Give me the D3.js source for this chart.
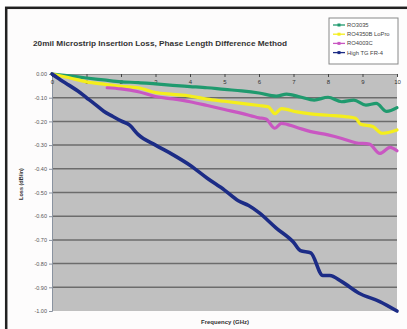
<!DOCTYPE html>
<html>
<head>
<meta charset="utf-8">
<script src="https://cdn.jsdelivr.net/npm/d3@7"></script>
<style>
  body { margin: 0; background: #fff; }
  text { font-family: "Liberation Sans", Arial, sans-serif; }
</style>
</head>
<body>
<div id="chart"></div>
<script>
// values
const seriesNames = ["RO3035", "RO4350B LoPro", "RO4003C", "High TG FR-4"]
const seriesColors = ["#1f9a6e", "#f4ee1c", "#c957c2", "#1c2c86"]

const freqRO3035 = [0,0.5,1,1.5,2,2.5,3,3.5,4,4.5,5,5.5,6,6.5,6.8,7.2,7.6,8.0,8.4,8.75,9.1,9.4,9.7,10]
const lossRO3035 = [0,-0.008,-0.017,-0.025,-0.033,-0.036,-0.042,-0.048,-0.053,-0.058,-0.065,-0.071,-0.08,-0.093,-0.085,-0.097,-0.11,-0.098,-0.117,-0.11,-0.131,-0.124,-0.158,-0.142]

const freqLoPro = [0,0.5,1,1.5,2,2.5,3,3.5,4,4.5,5,5.5,6,6.27,6.46,6.65,7.1,7.5,8,8.5,8.8,8.95,9.3,9.57,10]
const lossLoPro = [0,-0.016,-0.033,-0.043,-0.052,-0.058,-0.078,-0.086,-0.093,-0.106,-0.115,-0.124,-0.133,-0.138,-0.167,-0.146,-0.16,-0.168,-0.174,-0.18,-0.187,-0.212,-0.222,-0.25,-0.236]

const freqRO4003C = [1.6,2,2.5,3,3.5,4,4.5,5,5.5,6,6.2,6.46,6.65,7.1,7.5,8,8.4,8.8,9.2,9.5,9.8,10]
const lossRO4003C = [-0.058,-0.063,-0.075,-0.095,-0.105,-0.117,-0.133,-0.15,-0.166,-0.185,-0.19,-0.229,-0.208,-0.226,-0.243,-0.257,-0.272,-0.29,-0.296,-0.335,-0.31,-0.324]

const freqFR4 = [0,0.25,0.5,0.75,1,1.25,1.5,1.75,2,2.25,2.5,3,3.5,4,4.5,5,5.4,5.7,6,6.5,7,7.2,7.5,7.85,8.05,8.4,8.9,9.5,10]
const lossFR4 = [0,-0.025,-0.048,-0.072,-0.10,-0.128,-0.157,-0.178,-0.198,-0.216,-0.256,-0.30,-0.34,-0.385,-0.44,-0.49,-0.535,-0.555,-0.585,-0.65,-0.71,-0.745,-0.755,-0.85,-0.85,-0.876,-0.925,-0.96,-1.0]

const xTicks = [0,1,2,3,4,5,6,7,8,9,10]
const yTicks = [0,-0.1,-0.2,-0.3,-0.4,-0.5,-0.6,-0.7,-0.8,-0.9,-1.0]

const series = [
  {name: seriesNames[0], color: seriesColors[0], f: freqRO3035, v: lossRO3035},
  {name: seriesNames[1], color: seriesColors[1], f: freqLoPro, v: lossLoPro},
  {name: seriesNames[2], color: seriesColors[2], f: freqRO4003C, v: lossRO4003C},
  {name: seriesNames[3], color: seriesColors[3], f: freqFR4, v: lossFR4}
]

const W = 407, H = 329
const svg = d3.select("#chart").append("svg")
  .attr("width", W).attr("height", H)

// outer frame (only left/top edges fall inside the picture)
svg.append("rect")
  .attr("x", 6.2).attr("y", 7.8).attr("width", 420).attr("height", 340)
  .attr("fill", "#fdfcfc").attr("stroke", "#222").attr("stroke-width", 2.5)

const x = d3.scaleLinear().domain([0, 10]).range([52, 397])
const y = d3.scaleLinear().domain([-1, 0]).range([311, 74])

// plot area
svg.append("rect")
  .attr("x", x(0)).attr("y", y(0))
  .attr("width", x(10) - x(0)).attr("height", y(-1) - y(0))
  .attr("fill", "#c0c0c0")

// grid lines
svg.append("g").selectAll("line")
  .data(yTicks.filter(d => d < 0 && d > -1))
  .enter().append("line")
    .attr("x1", x(0)).attr("x2", x(10))
    .attr("y1", d => y(d)).attr("y2", d => y(d))
    .attr("stroke", "#6c6c6c").attr("stroke-width", 1.5)

// y axis
const yAxis = svg.append("g")
  .attr("transform", "translate(" + x(0) + ",0)")
  .call(d3.axisLeft(y).tickValues(yTicks).tickSize(3).tickPadding(2)
    .tickFormat(d => d.toFixed(2)))
yAxis.select(".domain").attr("stroke", "#8a93a0")
yAxis.selectAll(".tick line").attr("stroke", "#8a93a0")
yAxis.selectAll("text").attr("font-size", 5.5).attr("fill", "#555")

// x axis sits on the 0 dB line at the top
const xAxis = svg.append("g")
  .attr("transform", "translate(0," + y(0) + ")")
  .call(d3.axisBottom(x).tickValues(xTicks).tickSize(3).tickPadding(3)
    .tickFormat(d3.format("d")))
xAxis.select(".domain").attr("stroke", "#8a8a8a")
xAxis.selectAll(".tick line").attr("stroke", "#444")
xAxis.selectAll("text").attr("font-size", 6).attr("fill", "#333")

// lines
const line = d3.line()
  .x(d => x(d[0]))
  .y(d => y(d[1]))
  .curve(d3.curveMonotoneX)

svg.append("g").selectAll("path")
  .data(series)
  .enter().append("path")
    .attr("d", s => line(d3.zip(s.f, s.v)))
    .attr("fill", "none")
    .attr("stroke", s => s.color)
    .attr("stroke-width", s => s.name == "High TG FR-4" ? 3.6 : 3.2)
    .attr("stroke-linejoin", "round")
    .attr("stroke-linecap", "round")

// title
svg.append("text")
  .attr("x", 33).attr("y", 45.5)
  .attr("font-size", 7.5).attr("font-weight", "bold").attr("fill", "#333")
  .attr("textLength", 254).attr("lengthAdjust", "spacingAndGlyphs")
  .text("20mil Microstrip Insertion Loss, Phase Length Difference Method")

// axis titles
svg.append("text")
  .attr("transform", "translate(23,184) rotate(-90)")
  .attr("text-anchor", "middle")
  .attr("font-size", 5.5).attr("font-weight", "bold").attr("fill", "#333")
  .text("Loss (dB/in)")

svg.append("text")
  .attr("x", 225).attr("y", 324)
  .attr("text-anchor", "middle")
  .attr("font-size", 6).attr("font-weight", "bold").attr("fill", "#333")
  .text("Frequency (GHz)")

// legend
const legend = svg.append("g")
legend.append("rect")
  .attr("x", 329).attr("y", 18).attr("width", 69).attr("height", 46)
  .attr("fill", "#fff").attr("stroke", "#888").attr("stroke-width", 1)

const items = legend.selectAll("g.item")
  .data(series)
  .enter().append("g")
    .attr("transform", (d, i) => "translate(0," + (25 + i * 9.2) + ")")
items.append("line")
  .attr("x1", 333).attr("x2", 345).attr("y1", 0).attr("y2", 0)
  .attr("stroke", d => d.color).attr("stroke-width", 1.3)
items.append("rect")
  .attr("x", 337.5).attr("y", -1.5).attr("width", 3).attr("height", 3)
  .attr("fill", d => d.color)
items.append("text")
  .attr("x", 347).attr("y", 2)
  .attr("font-size", 5.8).attr("fill", "#444")
  .text(d => d.name)
</script>
</body>
</html>
